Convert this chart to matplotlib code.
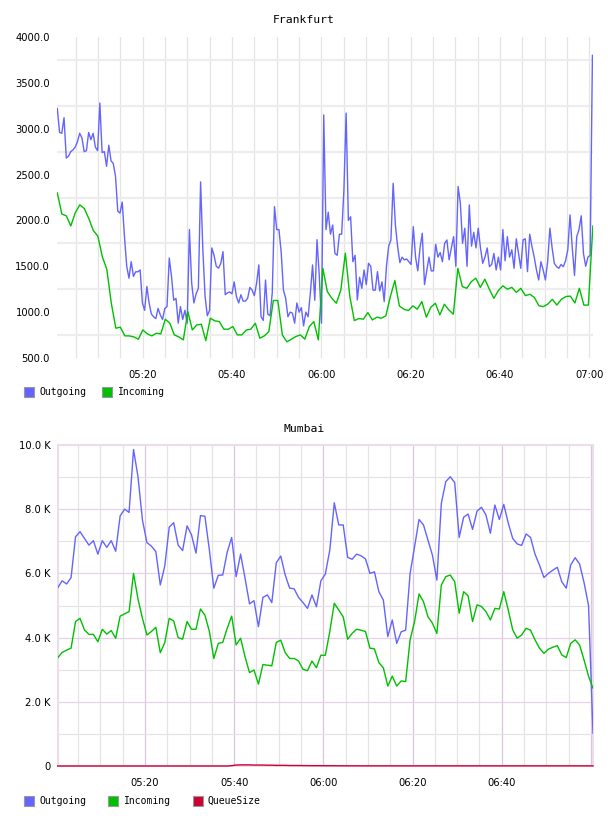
import numpy as np
import matplotlib
matplotlib.use("Agg")
import matplotlib.pyplot as plt
from matplotlib.patches import Rectangle
from matplotlib.ticker import FixedLocator

# ---------------- data ----------------
time_labels = ["05:20", "05:40", "06:00", "06:20", "06:40", "07:00"]
time_ticks = [20, 40, 60, 80, 100, 120]          # minutes after 05:00

# Frankfurt, Outgoing (30 s samples, ~05:01 .. 07:01)
fra_out = [
    3220, 2960, 2950, 3120, 2680, 2700, 2750, 2770, 2800, 2860,
    2950, 2900, 2750, 2760, 2960, 2880, 2950, 2800, 2760, 3280,
    2740, 2750, 2590, 2820, 2650, 2620, 2480, 2100, 2080, 2200,
    1820, 1500, 1370, 1550, 1390, 1440, 1440, 1460, 1100, 1020,
    1280, 1100, 980, 950, 930, 1040, 970, 920, 1040, 1060,
    1590, 1390, 1130, 1150, 880, 1060, 920, 1020, 880,
    1900, 1320, 1100, 1200, 1260, 2420, 1680, 1170, 960, 1020,
    1700, 1620, 1500, 1480, 1530, 1660, 1190, 1210, 1220, 1200,
    1330, 1170, 1100, 1190, 1120, 1120, 1150, 1270, 1240, 1180,
    1315, 1515, 950, 910, 1350, 980, 960, 1210, 2150, 1900,
    1900, 1650, 1240, 1150, 950, 1000, 990, 880, 1100, 1000,
    1050, 850, 1000, 950, 1200, 1515, 1130, 1790, 1400, 880,
    3150, 1900, 2090, 1850, 1950, 1640, 1620, 1850, 1850, 2330,
    3170, 2000, 2040, 1550, 1620, 1133, 1380, 1260, 1460, 1300,
    1533, 1500, 1240, 1240, 1442, 1230, 1330, 1115, 1500, 1720,
    1787, 2405, 1950, 1714, 1540, 1600, 1569, 1580, 1550, 1520,
    1932, 1600, 1450, 1700, 1860, 1300, 1450, 1600, 1450, 1450,
    1740, 1600, 1650, 1550, 1750, 1787, 1570, 1700, 1823, 1500,
    2370, 2190, 1750, 1915, 1500, 2169, 1720, 1870, 1700, 1915,
    1700, 1533, 1600, 1700, 1496, 1520, 1640, 1460, 1600, 1460,
    1900, 1560, 1823, 1600, 1680, 1478, 1800, 1640, 1478, 1787,
    1800, 1442, 1850, 1715, 1600, 1460, 1351, 1550, 1460, 1351,
    1550, 1915, 1700, 1530, 1496, 1478, 1520, 1496, 1560, 1680,
    2060, 1700, 1400, 1823, 1900, 2050, 1640, 1500, 1600, 1620,
    3800,
]

# Frankfurt, Incoming (1 min samples)
fra_in = [
    2300, 2070, 2050, 1940, 2085, 2170, 2130, 2020, 1890, 1830,
    1605, 1467, 1097, 825, 836, 741, 741, 730, 705, 806,
    763, 741, 770, 763, 923, 879, 752, 730, 697, 1006,
    806, 861, 868, 690, 934, 905, 897, 814, 814, 843,
    752, 752, 806, 814, 879, 716, 741, 788, 1127, 1127,
    752, 676, 705, 734, 752, 705, 843, 897, 697,
    1478, 1224, 1151, 1097, 1242, 1642, 1170, 908, 930, 923,
    995, 915, 945, 934, 960, 1170, 1344, 1068, 1032, 1017,
    1068, 1032, 1115, 945, 1054, 1097, 970, 1086, 1024, 977,
    1478, 1278, 1260, 1333, 1370, 1270, 1360, 1250, 1151, 1235,
    1287, 1250, 1270, 1215, 1260, 1180, 1195, 1160, 1070, 1060,
    1088, 1140, 1077, 1140, 1170, 1175, 1100, 1260, 1077, 1077,
    1940,
]

# Mumbai (1 min samples, values in thousands)
mum_out = [
    5.55, 5.77, 5.67, 5.87, 7.14, 7.30, 7.09, 6.88, 7.02, 6.60,
    7.02, 6.81, 7.02, 6.69, 7.79, 8.00, 7.90, 9.86, 9.01, 7.66,
    6.96, 6.85, 6.68, 5.64, 6.23, 7.44, 7.58, 6.88, 6.71, 7.48,
    7.20, 6.63, 7.80, 7.78, 6.73, 5.54, 5.94, 5.95, 6.66, 7.12,
    5.90, 6.60, 5.85, 5.05, 5.15, 4.34, 5.25, 5.33, 5.09, 6.33,
    6.54, 5.95, 5.54, 5.52, 5.25, 5.09, 4.91, 5.33, 4.96, 5.77,
    5.98, 6.73, 8.20, 7.51, 7.51, 6.50, 6.44, 6.60, 6.55, 6.45,
    6.00, 6.05, 5.43, 5.17, 4.03, 4.55, 3.82, 4.18, 4.23, 6.00,
    6.83, 7.68, 7.51, 7.04, 6.57, 5.79, 8.18, 8.86, 9.01, 8.83,
    7.12, 7.75, 7.85, 7.37, 7.94, 8.06, 7.82, 7.25, 8.13, 7.68,
    8.15, 7.57, 7.09, 6.92, 6.87, 7.23, 7.12, 6.60, 6.26, 5.87,
    6.00, 6.10, 6.19, 5.74, 5.54, 6.26, 6.49, 6.29, 5.71, 5.00,
    1.02,
]
mum_in = [
    3.37, 3.54, 3.61, 3.67, 4.50, 4.60, 4.24, 4.10, 4.10, 3.87,
    4.26, 4.11, 4.22, 3.98, 4.67, 4.74, 4.81, 6.00, 5.20, 4.60,
    4.08, 4.19, 4.32, 3.53, 3.84, 4.60, 4.52, 4.00, 3.95, 4.50,
    4.26, 4.26, 4.89, 4.70, 4.19, 3.35, 3.82, 3.85, 4.29, 4.67,
    3.77, 3.98, 3.40, 2.91, 2.99, 2.55, 3.16, 3.14, 3.12, 3.85,
    3.92, 3.53, 3.35, 3.35, 3.27, 3.01, 2.97, 3.27, 3.06, 3.45,
    3.45, 4.19, 5.07, 4.86, 4.65, 3.95, 4.13, 4.26, 4.23, 4.19,
    3.67, 3.65, 3.22, 3.06, 2.49, 2.80, 2.49, 2.65, 2.63, 3.93,
    4.50, 5.36, 5.12, 4.65, 4.45, 4.13, 5.64, 5.90, 5.95, 5.74,
    4.76, 5.43, 5.30, 4.50, 5.02, 4.97, 4.81, 4.55, 4.91, 4.89,
    5.43, 4.86, 4.24, 3.98, 4.08, 4.29, 4.23, 3.93, 3.67, 3.51,
    3.64, 3.70, 3.75, 3.46, 3.38, 3.82, 3.93, 3.77, 3.30, 2.80,
    2.42,
]
mum_queue = [0.0] * 39 + [
    0.010, 0.030, 0.035, 0.035, 0.035, 0.030, 0.030, 0.030, 0.025, 0.025,
    0.020, 0.020, 0.020, 0.015, 0.015, 0.015, 0.012, 0.012, 0.010, 0.010,
    0.010, 0.008, 0.008, 0.008, 0.006, 0.006, 0.005, 0.005, 0.005, 0.005,
] + [0.004] * 52

fra_yticks = [500, 1000, 1500, 2000, 2500, 3000, 3500, 4000]
fra_ygrid = [750, 1250, 1750, 2250, 2750, 3250, 3750]
mum_yticks = [0, 2, 4, 6, 8, 10]
mum_ylabels = ["0", "2.0 K", "4.0 K", "6.0 K", "8.0 K", "10.0 K"]

# ---------------- style ----------------
C_OUT = "#6464ff"
C_IN = "#00c000"
C_Q = "#cc0033"
W, H = 608, 816

fig = plt.figure(figsize=(W / 100, H / 100), dpi=100)
fig.patch.set_facecolor("white")

def px_rect(l, t, r, b):
    return [l / W, 1 - b / H, (r - l) / W, (b - t) / H]

tick_font = dict(family="DejaVu Sans", size=7.2)
mono = "DejaVu Sans Mono"

# ---------- Frankfurt ----------
ax1 = fig.add_axes(px_rect(57, 37, 593, 358))
x_out = np.linspace(0.9, 120.7, len(fra_out))
x_in = np.linspace(0.9, 120.8, len(fra_in))
ax1.plot(x_out, fra_out, color=C_OUT, lw=1.0, zorder=3)
ax1.plot(x_in, fra_in, color=C_IN, lw=1.0, zorder=4)
ax1.set_xlim(0.83, 120.83)
ax1.set_ylim(500, 4000)
ax1.set_xticks(time_ticks)
ax1.set_xticklabels(time_labels, **tick_font)
ax1.set_yticks(fra_yticks)
ax1.set_yticklabels([f"{v:.1f}" for v in fra_yticks], **tick_font)
ax1.grid(False)
for t in range(5, 121, 5):
    ax1.axvline(t, color="#e4e4e4", lw=0.9, zorder=1)
for g in fra_ygrid:
    ax1.axhline(g, color="#ededed", lw=1.6, zorder=1)
for s in ax1.spines.values():
    s.set_visible(False)
ax1.tick_params(axis="both", which="both", length=0)
ax1.tick_params(axis="x", pad=9)
ax1.tick_params(axis="y", pad=5)
fig.text(0.5, 1 - 20 / H, "Frankfurt", ha="center", va="center",
         family=mono, size=8.2)

# ---------- Mumbai ----------
ax2 = fig.add_axes(px_rect(57.7, 445, 593, 766))
ax2.plot(0.45 + np.arange(len(mum_out)), mum_out, color=C_OUT, lw=1.0, zorder=3)
ax2.plot(0.45 + np.arange(len(mum_in)), mum_in, color=C_IN, lw=1.0, zorder=4)
ax2.plot(0.45 + np.arange(len(mum_queue)), mum_queue, color=C_Q, lw=1.0,
         zorder=5, clip_on=False)
ax2.set_xlim(0.45, 120.45)
ax2.set_ylim(0, 10)
ax2.set_xticks(time_ticks[:-1])
ax2.set_xticklabels(time_labels[:-1], **tick_font)
ax2.set_yticks(mum_yticks)
ax2.set_yticklabels(mum_ylabels, **tick_font)
for t in range(5, 121, 5):
    major = (t % 20 == 0)
    ax2.axvline(t, color="#dcc4dc" if major else "#e4e4e4", lw=0.9, zorder=1)
for g in range(1, 10):
    major = (g % 2 == 0)
    ax2.axhline(g, color="#e8d0e8" if major else "#e4e4e4", lw=0.9, zorder=1)
for s in ax2.spines.values():
    s.set_color("#ecdcec")
    s.set_linewidth(1.5)
ax2.tick_params(axis="both", which="both", length=0)
ax2.tick_params(axis="x", pad=9)
ax2.tick_params(axis="y", pad=5)
fig.text(0.5, 1 - 429 / H, "Mumbai", ha="center", va="center",
         family=mono, size=8.2)

# ---------- legends ----------
def legend_item(x_sq, x_txt, yc, color, label):
    fig.add_artist(Rectangle((x_sq / W, 1 - (yc + 5) / H), 10 / W, 10 / H,
                             transform=fig.transFigure, facecolor=color,
                             edgecolor="#999999", lw=0.8))
    fig.text(x_txt / W, 1 - yc / H, label, ha="left", va="center",
             family=mono, size=7)

legend_item(24, 39, 392, C_OUT, "Outgoing")
legend_item(102, 118, 392, C_IN, "Incoming")
legend_item(24, 39, 800.5, C_OUT, "Outgoing")
legend_item(108, 124, 800.5, C_IN, "Incoming")
legend_item(193, 207, 800.5, C_Q, "QueueSize")

fig.savefig("out.png", dpi=100)
